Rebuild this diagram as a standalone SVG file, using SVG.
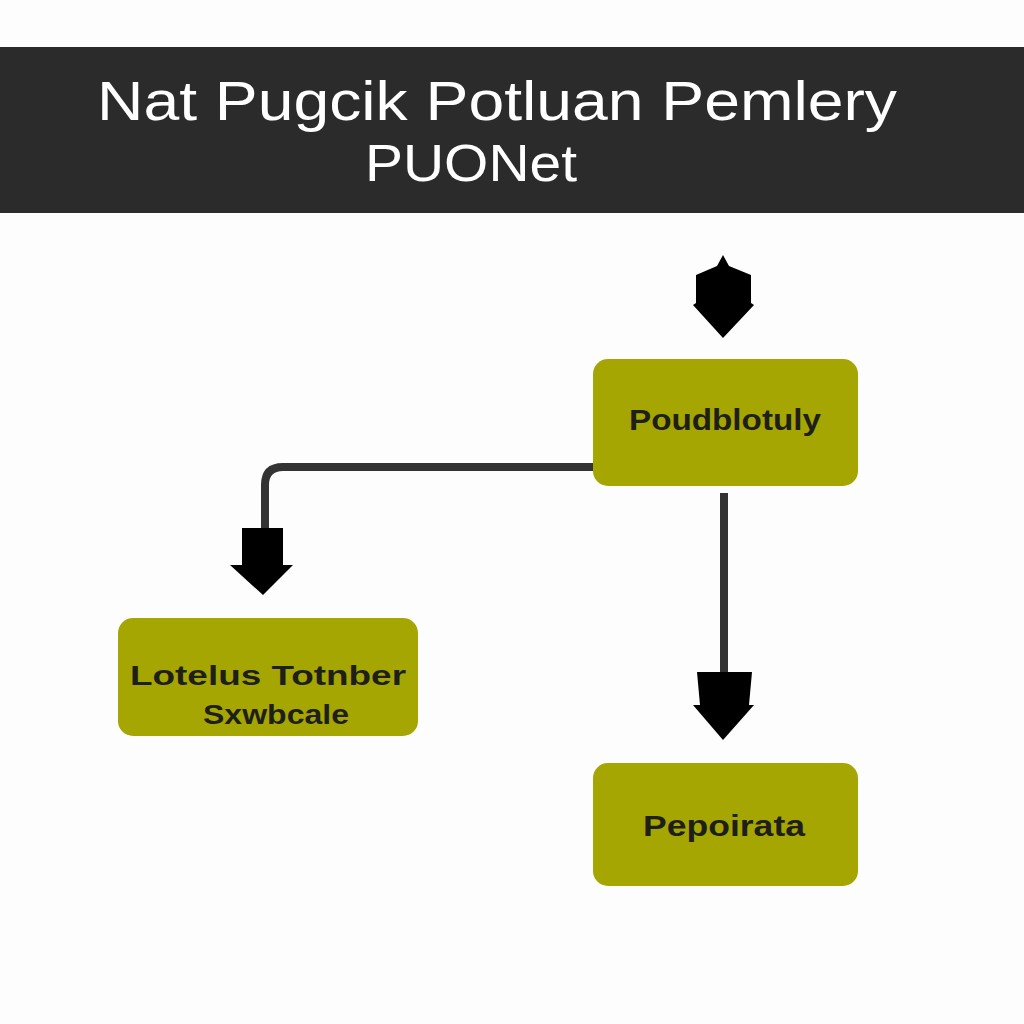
<svg xmlns="http://www.w3.org/2000/svg" width="1024" height="1024" viewBox="0 0 1024 1024">
  <style>
    .node { fill: #a5a602; }
    .label { font-family: "Liberation Sans", Arial, sans-serif; font-weight: bold; fill: #1f1f1a; text-anchor: middle; }
    .title { font-family: "Liberation Sans", Arial, sans-serif; fill: #ffffff; text-anchor: middle; }
    .line { fill: none; stroke: #333333; stroke-width: 8; }
    .head { fill: #000000; }
  </style>
  <rect x="0" y="0" width="1024" height="1024" fill="#fdfdfd"/>
  <g id="header">
    <rect x="0" y="47" width="1024" height="166" fill="#2b2b2b"/>
    <text class="title" x="497" y="120" font-size="56" textLength="800" lengthAdjust="spacingAndGlyphs">Nat Pugcik Potluan Pemlery</text>
    <text class="title" x="471" y="181" font-size="52" textLength="212" lengthAdjust="spacingAndGlyphs">PUONet</text>
  </g>
  <g id="connectors">
    <polygon class="head" points="723,255 729,266 751,275 751,303 754,305 723,338 693,305 696,303 696,275 717,266"/>
    <path class="line" d="M593,467 L283,467 Q265,467 265,485 L265,530"/>
    <polygon class="head" points="242,528 283,528 283,565 293,565 263,595 230,565 242,565"/>
    <line class="line" x1="724" y1="493" x2="724" y2="675"/>
    <polygon class="head" points="697,672 752,672 749,705 754,705 723,740 693,705 700,705"/>
  </g>
  <g id="node-poudblotuly">
    <rect class="node" x="593" y="359" width="265" height="127" rx="15"/>
    <text class="label" x="725" y="430" font-size="29" textLength="192" lengthAdjust="spacingAndGlyphs">Poudblotuly</text>
  </g>
  <g id="node-lotelus">
    <rect class="node" x="118" y="618" width="300" height="118" rx="15"/>
    <text class="label" x="268" y="685" font-size="28" textLength="276" lengthAdjust="spacingAndGlyphs">Lotelus Totnber</text>
    <text class="label" x="276" y="724" font-size="28" textLength="146" lengthAdjust="spacingAndGlyphs">Sxwbcale</text>
  </g>
  <g id="node-pepoirata">
    <rect class="node" x="593" y="763" width="265" height="123" rx="15"/>
    <text class="label" x="724" y="836" font-size="29" textLength="162" lengthAdjust="spacingAndGlyphs">Pepoirata</text>
  </g>
</svg>
